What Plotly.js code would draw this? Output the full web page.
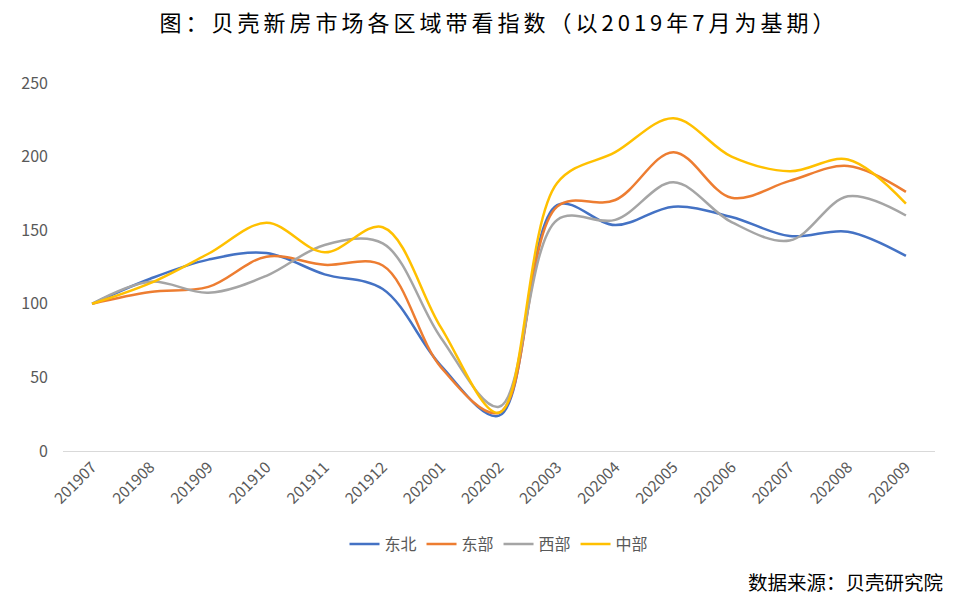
<!DOCTYPE html>
<html>
<head>
<meta charset="utf-8">
<script src="https://cdn.plot.ly/plotly-3.0.1.min.js"></script>
<style>
html,body{margin:0;padding:0;background:#fff;}
#chart{width:970px;height:608px;}
.gtitle{letter-spacing:4px;}
</style>
</head>
<body>
<div id="chart"></div>
<script>
const months = ['201907','201908','201909','201910','201911','201912','202001','202002','202003','202004','202005','202006','202007','202008','202009'];
const northeast = [100,117,130,134.5,120,110,58,24,167,153.5,166,159,146,149,132.5];
const east      = [100,108,111.5,132,126.5,126,57,26,166,170.5,203,172,183.5,193.6,176];
const west      = [100,115,107.5,119,140,141,77,30,157,157,182.5,155.5,143,173,160];
const central   = [100,114,134,155,135,152,84,26,182,203,226,200,190,198,168];

const names = ['东北','东部','西部','中部'];
const colors = ['#4472C4','#ED7D31','#A5A5A5','#FFC000'];
const series = [northeast, east, west, central];

const traces = series.map((s,i)=>({
  x: months, y: s, name: names[i], type:'scatter', mode:'lines',
  line:{color:colors[i], width:2.5, shape:'spline', smoothing:1},
  hoverinfo:'skip'
}));

const cjk = '"Noto Sans CJK SC", "Noto Sans", sans-serif';
const layout = {
  width:970, height:608,
  margin:{l:63, r:35, t:83, b:157},
  paper_bgcolor:'#fff', plot_bgcolor:'#fff',
  title:{text:'图：贝壳新房市场各区域带看指数（以2019年7月为基期）', x:0.5, xanchor:'center', xref:'paper', y:0.962, yanchor:'middle', font:{family:cjk, size:22, color:'#000'}},
  xaxis:{type:'category', range:[-0.5,14.5], showgrid:false, zeroline:false, showline:true, linecolor:'#D9D9D9', linewidth:1, ticks:'', tickangle:-45, tickfont:{family:cjk, size:15.5, color:'#595959'}, fixedrange:true},
  yaxis:{range:[0,250], tickvals:[0,50,100,150,200,250], showgrid:false, zeroline:false, showline:false, ticks:'', ticklabelstandoff:14, tickfont:{family:cjk, size:16, color:'#595959'}, fixedrange:true},
  legend:{orientation:'h', x:0.5, xanchor:'center', y:-0.253, yanchor:'middle', font:{family:cjk, size:16, color:'#595959'}, itemwidth:30, tracegroupgap:0},
  showlegend:true,
  annotations:[{text:'数据来源：贝壳研究院', xref:'paper', yref:'paper', x:1.012, xanchor:'right', y:-0.354, yanchor:'middle', showarrow:false, font:{family:cjk, size:19.5, color:'#000'}}]
};
Plotly.newPlot('chart', traces, layout, {displayModeBar:false, staticPlot:true});
</script>
</body>
</html>
